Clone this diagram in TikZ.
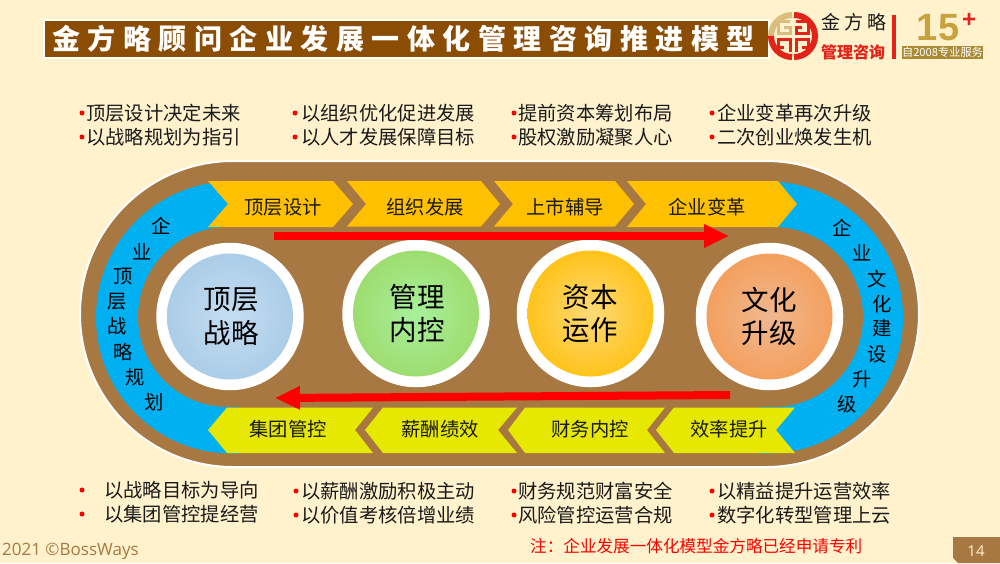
\documentclass[tikz,border=0pt]{standalone}
\usepackage{fontspec}
\usetikzlibrary{arrows.meta}
\setmainfont{Noto Sans CJK SC}
\newfontfamily\latinfont{Open Sans}
\newfontfamily\headfont{Liberation Sans}[BoldFont={Liberation Sans Bold}]
\definecolor{bgc}{HTML}{FFF2CC}
\definecolor{brownc}{HTML}{A87842}
\definecolor{barc}{HTML}{8B4C04}
\definecolor{bluec}{HTML}{00B0F0}
\definecolor{orangec}{HTML}{FFC000}
\definecolor{limec}{HTML}{E6E800}
\definecolor{inkc}{HTML}{1A1A1A}
\definecolor{redc}{HTML}{FF0000}
\definecolor{logored}{HTML}{E2231A}
\definecolor{logotan}{HTML}{D9BE7F}
\definecolor{goldc}{HTML}{C9A240}
\definecolor{c1in}{HTML}{C5DDF2}
\definecolor{c1out}{HTML}{ABCDE8}
\definecolor{c2in}{HTML}{A8F09C}
\definecolor{c2out}{HTML}{9EDD70}
\definecolor{c3in}{HTML}{FFDA78}
\definecolor{c3out}{HTML}{FFC31A}
\definecolor{c4in}{HTML}{F0B890}
\definecolor{c4out}{HTML}{F4A05E}
\tikzset{
  x=1pt,y=-1pt,
  body/.style={font=\fontsize{19.3}{19.3}\selectfont,text=inkc,inner sep=0pt,anchor=west},
  lab/.style={font=\fontsize{19.3}{19.3}\selectfont,text=inkc,inner sep=0pt},
  ringch/.style={font=\fontsize{19.3}{19.3}\selectfont,text=black,inner sep=0pt},
  big/.style={font=\fontsize{27.5}{27.5}\selectfont,text=black,inner sep=0pt},
  dot/.style={circle,fill=redc,minimum size=5pt,inner sep=0pt},
  chevt/.style={fill=orangec},
  chevb/.style={fill=limec},
  redarrow/.style={draw=redc,line width=8pt,-{Triangle[length=25pt,width=22pt]}},
  halo/.style={circle,fill=white,minimum size=147.5pt,inner sep=0pt},
  logoring/.style={line width=6pt},
  logomaze/.style={line width=3pt}
}
\begin{document}
\begin{tikzpicture}
\useasboundingbox (0,0) rectangle (1000,563);
\fill[bgc] (0,0) rectangle (1000,563);
% header
\fill[white] (43,19) rectangle (770,59);
\fill[barc] (45,21) rectangle (768,57);
\node[anchor=west,inner sep=0pt,text=white,font=\fontsize{28}{28}\bfseries\selectfont\addfontfeature{LetterSpace=26.8}] (title) at (52,39) {金方略顾问企业发展一体化管理咨询推进模型};
% logo
\draw[logotan,logoring] (792,15) arc[start angle=270,end angle=180,radius=21] -- (771,35);
\draw[logored,logoring] (794,15) arc[start angle=-90,end angle=0,radius=21] -- (815,35);
\draw[logored,logoring] (794,57) arc[start angle=90,end angle=0,radius=21] -- (815,38);
\draw[logored,logoring] (792,57) arc[start angle=90,end angle=180,radius=21] -- (771,38);
\draw[logotan,logomaze] (790,21.5) -- (778.5,21.5) -- (778.5,33) -- (790,33) -- (790,27) -- (784,27);
\draw[logored,logomaze] (796,21.5) -- (808,21.5) -- (808,33) -- (796,33) -- (796,27) -- (802,27);
\draw[logored,logomaze] (784,47) -- (778.5,47) -- (778.5,39.5) -- (790,39.5) -- (790,52);
\draw[logored,logomaze] (802,47) -- (808,47) -- (808,39.5) -- (796,39.5) -- (796,52);
\node[inner sep=0pt,text=inkc,font=\fontsize{19}{19}\selectfont\addfontfeature{LetterSpace=20}] (brand) at (854,22) {金方略};
\node[inner sep=0pt,text=logored,font=\fontsize{16}{16}\bfseries\selectfont] (consult) at (853,52) {管理咨询};
\fill[logored] (892.3,15) rectangle (895.7,59);
\node[inner sep=0pt,text=goldc,font=\headfont\fontsize{38}{38}\bfseries\selectfont] (fifteen) at (938,28) {15};
\node[inner sep=0pt,text=logored,font=\headfont\fontsize{24}{24}\bfseries\selectfont] (plus) at (969,20) {+};
\fill[goldc!85!black] (902,46) rectangle (983,59);
\node[inner sep=0pt,text=white,font=\fontsize{11.2}{11.2}\selectfont] (since) at (942.5,52.5) {自2008专业服务};
% top bullets
\node[dot] (d1) at (82,113) {}; \node[body] (t1) at (86,113) {顶层设计决定未来};
\node[dot] (d2) at (82,137) {}; \node[body] (t2) at (86,137) {以战略规划为指引};
\node[dot] (d3) at (295,113) {}; \node[body] (t3) at (301,113) {以组织优化促进发展};
\node[dot] (d4) at (295,137) {}; \node[body] (t4) at (301,137) {以人才发展保障目标};
\node[dot] (d5) at (514,113) {}; \node[body] (t5) at (518,113) {提前资本筹划布局};
\node[dot] (d6) at (514,137) {}; \node[body] (t6) at (518,137) {股权激励凝聚人心};
\node[dot] (d7) at (712,113) {}; \node[body] (t7) at (717,113) {企业变革再次升级};
\node[dot] (d8) at (712,137) {}; \node[body] (t8) at (717,137) {二次创业焕发生机};
% stadium
\fill[brownc,draw=white,line width=2pt,rounded corners=153pt] (80,161) rectangle (919,467);
\fill[bluec] (232,181.5) arc[start angle=270,end angle=90,radius=136] -- (240,453.5) -- (240,181.5) -- cycle;
\fill[bluec] (767,181.5) arc[start angle=-90,end angle=90,radius=136] -- (760,453.5) -- (760,181.5) -- cycle;
\fill[brownc,rounded corners=90pt] (138,227) rectangle (863,407);
% chevrons top
\fill[chevt] (208,181)--(333,181)--(353,204)--(333,227)--(208,227)--(228,204)--cycle;
\fill[chevt] (347,181)--(481,181)--(500,204)--(481,226.5)--(347,226.5)--(366,204)--cycle;
\fill[chevt] (494,181)--(615,181)--(634,204)--(615,226.5)--(494,226.5)--(513,204)--cycle;
\fill[chevt] (627,181)--(778,181)--(797,204)--(778,227)--(627,227)--(646,204)--cycle;
% chevrons bottom
\fill[chevb] (208,430)--(227,407.5)--(373,407.5)--(355,430)--(373,453)--(227,453)--cycle;
\fill[chevb] (365,430)--(383,407.5)--(517,407.5)--(498,430)--(517,453)--(383,453)--cycle;
\fill[chevb] (508,430)--(525,407.5)--(665,407.5)--(647,430)--(665,453)--(525,453)--cycle;
\fill[chevb] (656,430)--(674,407.5)--(795,407.5)--(776,430)--(795,453)--(674,453)--cycle;
\node[lab] (a1) at (283,207.5) {顶层设计};
\node[lab] (a2) at (425,207.5) {组织发展};
\node[lab] (a3) at (565,207.5) {上市辅导};
\node[lab] (a4) at (707,207.5) {企业变革};
\node[lab] (b1) at (288,429.5) {集团管控};
\node[lab] (b2) at (440,429.5) {薪酬绩效};
\node[lab] (b3) at (590,429.5) {财务内控};
\node[lab] (b4) at (729,429.5) {效率提升};
% ring text
\node[ringch] (l1) at (161,226) {企};
\node[ringch] (l2) at (142,252) {业};
\node[ringch] (l3) at (123,277) {顶};
\node[ringch] (l4) at (117,302) {层};
\node[ringch] (l5) at (117,326) {战};
\node[ringch] (l6) at (123,352) {略};
\node[ringch] (l7) at (135,377) {规};
\node[ringch] (l8) at (154,402) {划};
\node[ringch] (r1) at (842,228) {企};
\node[ringch] (r2) at (862,253) {业};
\node[ringch] (r3) at (877,279) {文};
\node[ringch] (r4) at (882,304) {化};
\node[ringch] (r5) at (882,328) {建};
\node[ringch] (r6) at (877,354) {设};
\node[ringch] (r7) at (862,379) {升};
\node[ringch] (r8) at (847,404) {级};
% circles
\node[halo] (c1) at (230,316.5) {};
\node[halo] (c2) at (416,313.5) {};
\node[halo] (c3) at (590.5,313.5) {};
\node[halo] (c4) at (769.5,316.5) {};
\shade[inner color=c1in,outer color=c1out] (c1) circle (63);
\shade[inner color=c2in,outer color=c2out] (c2) circle (63);
\shade[inner color=c3in,outer color=c3out] (c3) circle (63);
\shade[inner color=c4in,outer color=c4out] (c4) circle (63);
\node[big] (m1a) at (231,300) {顶层};
\node[big] (m1b) at (231,333) {战略};
\node[big] (m2a) at (417,297) {管理};
\node[big] (m2b) at (417,330) {内控};
\node[big] (m3a) at (590,297) {资本};
\node[big] (m3b) at (590,330) {运作};
\node[big] (m4a) at (769,300) {文化};
\node[big] (m4b) at (769,333) {升级};
% arrows
\coordinate (ta) at (274,236);
\coordinate (tb) at (729,236);
\coordinate (ba) at (730,395);
\coordinate (bb) at (275,398);
\draw[redarrow] (ta) -- (tb);
\draw[redarrow] (ba) -- (bb);
% bottom bullets
\node[dot] (e1) at (82,490) {}; \node[body] (u1) at (104,490) {以战略目标为导向};
\node[dot] (e2) at (82,514) {}; \node[body] (u2) at (104,514) {以集团管控提经营};
\node[dot] (e3) at (296,491) {}; \node[body] (u3) at (301,491) {以薪酬激励积极主动};
\node[dot] (e4) at (296,515) {}; \node[body] (u4) at (301,515) {以价值考核倍增业绩};
\node[dot] (e5) at (514,491) {}; \node[body] (u5) at (518,491) {财务规范财富安全};
\node[dot] (e6) at (514,515) {}; \node[body] (u6) at (518,515) {风险管控运营合规};
\node[dot] (e7) at (712,491) {}; \node[body] (u7) at (717,491) {以精益提升运营效率};
\node[dot] (e8) at (712,515) {}; \node[body] (u8) at (717,515) {数字化转型管理上云};
% footer
\node[anchor=west,inner sep=0pt,text=brownc,font=\latinfont\fontsize{17}{17}\selectfont] (copy) at (2,551) {2021 ©BossWays};
\node[anchor=west,inner sep=0pt,text=redc,font=\fontsize{16.6}{16.6}\selectfont] (note) at (530,546) {注：企业发展一体化模型金方略已经申请专利};
\fill[brownc] (953,537) -- (1000,537) -- (1000,563) -- (958,563) -- (953,558) -- cycle;
\node[inner sep=0pt,text=bgc,font=\latinfont\fontsize{15}{15}\selectfont] (pg) at (976,551) {14};
\end{tikzpicture}
\end{document}
